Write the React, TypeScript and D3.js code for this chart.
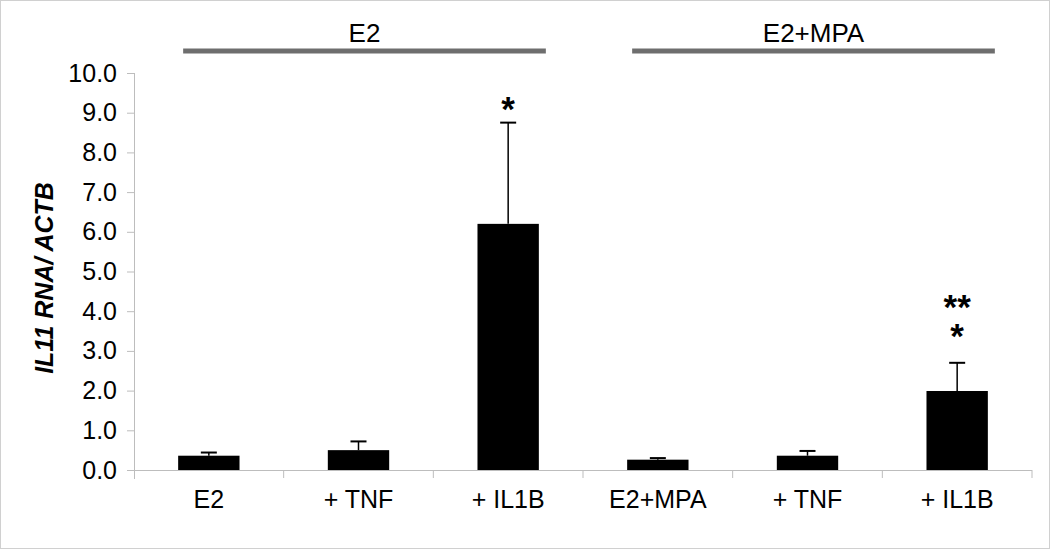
import { useEffect, useRef } from 'react';
import * as d3 from 'd3';

const categories = ['E2', '+ TNF', '+ IL1B', 'E2+MPA', '+ TNF ', '+ IL1B '];
const categoryLabels = ['E2', '+ TNF', '+ IL1B', 'E2+MPA', '+ TNF', '+ IL1B'];
const values = [0.36, 0.5, 6.2, 0.26, 0.36, 1.99];
const errors = [0.08, 0.22, 2.55, 0.04, 0.12, 0.71];
const stars = [[], [], ['*'], [], [], ['**', '*']];
const yTicks = [0, 1, 2, 3, 4, 5, 6, 7, 8, 9, 10];
const groups = [
  { label: 'E2', from: 0, to: 2 },
  { label: 'E2+MPA', from: 3, to: 5 }
];

export default function App() {
  const svgRef = useRef<SVGSVGElement>(null);

  useEffect(() => {
    const svg = d3.select(svgRef.current);
    svg.selectAll('*').remove();

    const width = 1050;
    const height = 549;
    const margin = { top: 73, right: 18, bottom: 79, left: 134 };
    const innerWidth = width - margin.left - margin.right;
    const innerHeight = height - margin.top - margin.bottom;
    const font = 'Liberation Sans, Arial, sans-serif';

    svg.append('rect')
      .attr('x', 0.5).attr('y', 0.5)
      .attr('width', width - 1).attr('height', height - 1)
      .attr('fill', '#fff')
      .attr('stroke', '#d0d0d0');

    const g = svg.append('g')
      .attr('transform', `translate(${margin.left},${margin.top})`);

    const x = d3.scaleBand()
      .domain(categories)
      .range([0, innerWidth])
      .paddingInner(0.59)
      .paddingOuter(0.295);

    const y = d3.scaleLinear()
      .domain([0, 10])
      .range([innerHeight, 0]);

    // y axis
    const yAxis = g.append('g')
      .call(d3.axisLeft(y).tickValues(yTicks).tickSize(7).tickFormat(d3.format('.1f')));
    yAxis.select('.domain').attr('stroke', '#bdbdbd').attr('d', `M0.5,0V${innerHeight + 9}`);
    yAxis.selectAll('.tick line').attr('stroke', '#bdbdbd');
    yAxis.selectAll('.tick text')
      .attr('x', -17)
      .attr('fill', '#000')
      .style('font-family', font)
      .style('font-size', '25px');

    // x axis baseline with category separators
    const bandStep = innerWidth / categories.length;
    g.append('line')
      .attr('x1', 0).attr('x2', innerWidth)
      .attr('y1', innerHeight + 0.5).attr('y2', innerHeight + 0.5)
      .attr('stroke', '#bdbdbd');
    g.selectAll('.sep')
      .data(d3.range(1, categories.length + 1))
      .join('line')
      .attr('class', 'sep')
      .attr('x1', d => d * bandStep).attr('x2', d => d * bandStep)
      .attr('y1', innerHeight).attr('y2', innerHeight + 8)
      .attr('stroke', '#bdbdbd');

    g.selectAll('.xlabel')
      .data(categories)
      .join('text')
      .attr('class', 'xlabel')
      .attr('x', d => x(d)! + x.bandwidth() / 2)
      .attr('y', innerHeight + 29)
      .attr('text-anchor', 'middle')
      .attr('dominant-baseline', 'central')
      .style('font-family', font)
      .style('font-size', '25px')
      .text((d, i) => categoryLabels[i]);

    // error bars
    g.selectAll('.err')
      .data(categories)
      .join('line')
      .attr('class', 'err')
      .attr('x1', d => x(d)! + x.bandwidth() / 2)
      .attr('x2', d => x(d)! + x.bandwidth() / 2)
      .attr('y1', (d, i) => y(values[i]))
      .attr('y2', (d, i) => y(values[i] + errors[i]))
      .attr('stroke', '#000')
      .attr('stroke-width', 1.5);
    g.selectAll('.cap')
      .data(categories)
      .join('line')
      .attr('class', 'cap')
      .attr('x1', d => x(d)! + x.bandwidth() / 2 - 8)
      .attr('x2', d => x(d)! + x.bandwidth() / 2 + 8)
      .attr('y1', (d, i) => y(values[i] + errors[i]))
      .attr('y2', (d, i) => y(values[i] + errors[i]))
      .attr('stroke', '#000')
      .attr('stroke-width', 2);

    // bars
    g.selectAll('.bar')
      .data(categories)
      .join('rect')
      .attr('class', 'bar')
      .attr('x', d => x(d)!)
      .attr('y', (d, i) => y(values[i]))
      .attr('width', x.bandwidth())
      .attr('height', (d, i) => innerHeight - y(values[i]))
      .attr('fill', '#000');

    // significance stars, stacked lines in one text
    categories.forEach((c, i) => {
      const n = stars[i].length;
      if (!n) return;
      const top = y(values[i] + errors[i]);
      const gap = n > 1 ? 15 : 2;
      const cx = x(c)! + x.bandwidth() / 2;
      const t = g.append('text')
        .attr('x', cx)
        .attr('y', top - gap - (n - 1) * 29)
        .attr('text-anchor', 'middle')
        .style('font-family', font)
        .style('font-size', '35px')
        .style('font-weight', 'bold');
      stars[i].forEach((s, k) => {
        t.append('tspan')
          .attr('x', cx)
          .attr('dy', k === 0 ? 0 : 29)
          .text(s);
      });
    });

    // group brackets
    groups.forEach(gr => {
      const x0 = x(categories[gr.from])! + 5;
      const x1 = x(categories[gr.to])! + x.bandwidth() + 7;
      g.append('line')
        .attr('x1', x0).attr('x2', x1)
        .attr('y1', -22).attr('y2', -22)
        .attr('stroke', '#6e6e6e')
        .attr('stroke-width', 5);
      g.append('text')
        .attr('x', (x0 + x1) / 2)
        .attr('y', -40)
        .attr('text-anchor', 'middle')
        .attr('dominant-baseline', 'central')
        .style('font-family', font)
        .style('font-size', '26px')
        .text(gr.label);
    });

    // y axis title
    svg.append('text')
      .attr('transform', 'translate(44,278) rotate(-90)')
      .attr('text-anchor', 'middle')
      .attr('dominant-baseline', 'central')
      .style('font-family', font)
      .style('font-size', '25px')
      .style('font-weight', 'bold')
      .style('font-style', 'italic')
      .text('IL11 RNA/ ACTB');
  }, []);

  return (
    <div style={{ position: 'absolute', left: 0, top: 0 }}>
      <svg ref={svgRef} width={1050} height={549} style={{ display: 'block' }} />
    </div>
  );
}
